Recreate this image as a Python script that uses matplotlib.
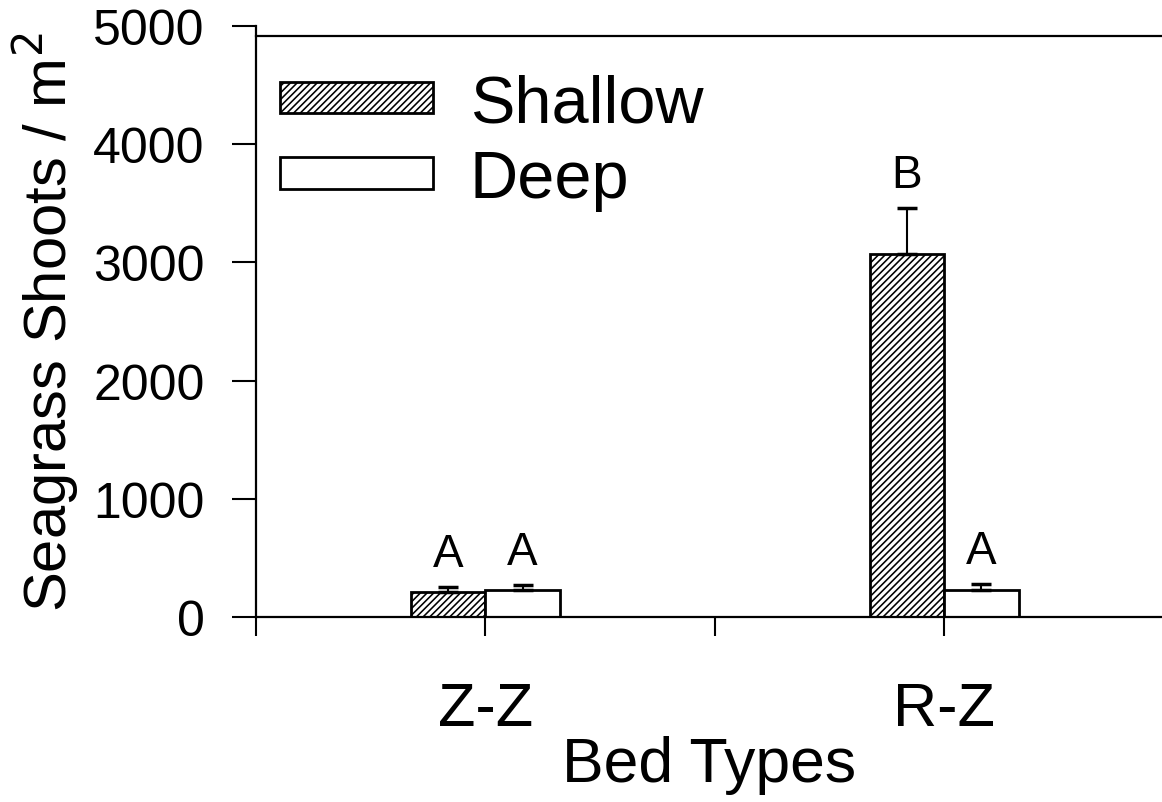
import matplotlib
matplotlib.use("Agg")
import matplotlib.pyplot as plt
import numpy as np

plt.rcParams['font.family'] = ['Liberation Sans', 'DejaVu Sans']
plt.rcParams['hatch.linewidth'] = 1.15

# shoot density per bed type
beds = ['Z-Z', 'R-Z']
shallow = [215, 3070]
shallow_se = [35, 390]
deep = [232, 232]
deep_se = [36, 50]
shallow_letters = ['A', 'B']
deep_letters = ['A', 'A']

x = np.array([1, 3])
w = 0.325

fig = plt.figure(figsize=(11.62, 8.03), dpi=100)
ax = fig.add_axes([0.2203, 0.2304, 0.7797, 0.736])

err_kw = dict(ecolor='black', elinewidth=1.5, capsize=7, capthick=2.5)
b1 = ax.bar(x - w / 2, shallow, w, color='white', edgecolor='black', hatch='/////',
            linewidth=2, label='Shallow')
ax.errorbar(x - w / 2, shallow, yerr=[np.zeros(2), shallow_se], fmt='none', **err_kw)
b2 = ax.bar(x + w / 2, deep, w, color='white', edgecolor='black',
            linewidth=2, label='Deep')
ax.errorbar(x + w / 2, deep, yerr=[np.zeros(2), deep_se], fmt='none', **err_kw)

# significance letters above the error bars
for xi, v, e, t in zip(x - w / 2, shallow, shallow_se, shallow_letters):
    ax.annotate(t, (xi, v + e), xytext=(0, 8), textcoords='offset points',
                ha='center', va='bottom', fontsize=33)
for xi, v, e, t in zip(x + w / 2, deep, deep_se, deep_letters):
    ax.annotate(t, (xi, v + e), xytext=(0, 8), textcoords='offset points',
                ha='center', va='bottom', fontsize=33)

ax.set_xlim(0, 3.95)
ax.set_ylim(0, 5000)
ax.set_xticks([0, 1, 2, 3])
ax.set_xticklabels(['', beds[0], '', beds[1]], fontsize=44)
ax.set_yticks(range(0, 5001, 1000))
ax.tick_params(axis='y', labelsize=36, length=17, width=1.5, pad=20)
ax.tick_params(axis='x', length=14, width=1.5, pad=32)

for s in ['top', 'right']:
    ax.spines[s].set_visible(False)
for s in ['left', 'bottom']:
    ax.spines[s].set_linewidth(1.6)
ax.axhline(4915, color='black', linewidth=1.6, clip_on=False)

ax.set_ylabel('Seagrass Shoots / m$^2$', fontsize=43, labelpad=9)
ax.set_xlabel('Bed Types', fontsize=45, labelpad=-2)

ax.legend(handles=[b1, b2], loc='upper left', bbox_to_anchor=(-0.029, 1.004),
          frameon=False, fontsize=48, handlelength=2.3, handleheight=0.35,
          handletextpad=0.55, labelspacing=0.2, borderaxespad=0.35)

fig.savefig('out.png', dpi=100)
